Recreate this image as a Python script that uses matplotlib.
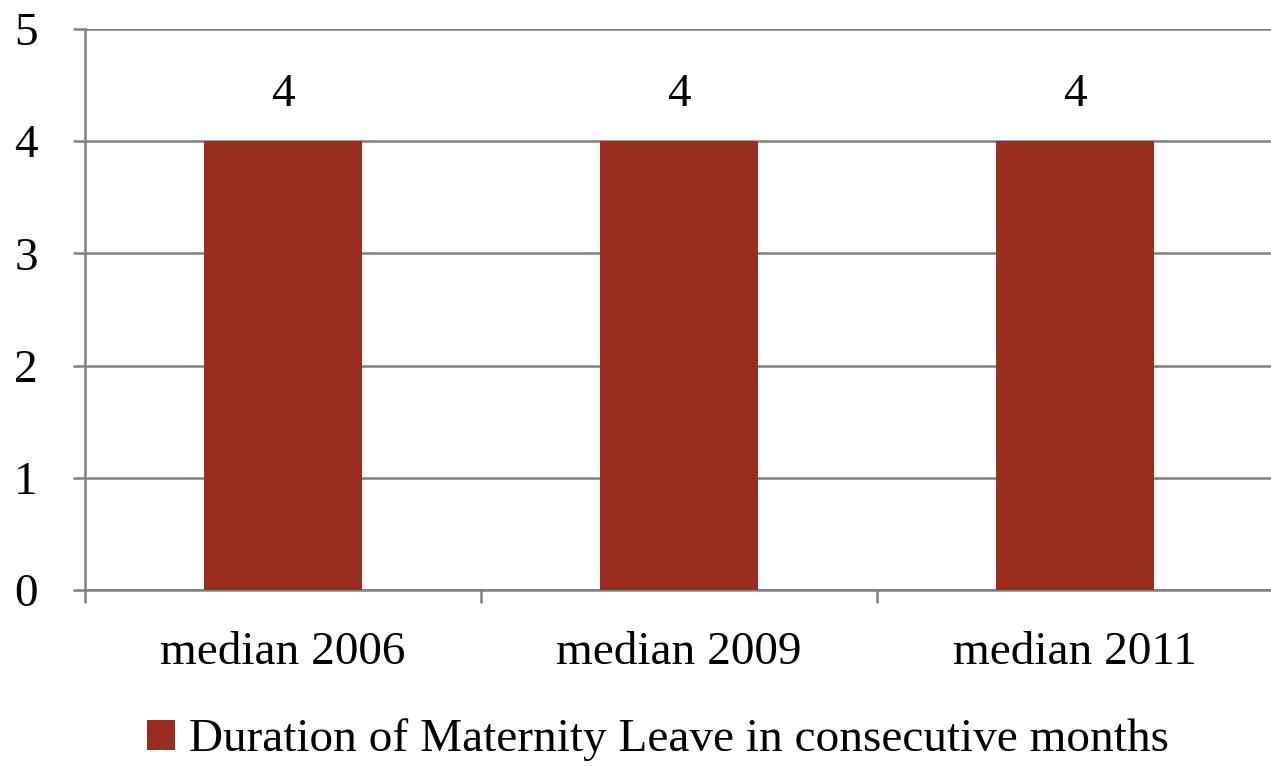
import matplotlib.pyplot as plt
from matplotlib.patches import Patch

categories = ["median 2006", "median 2009", "median 2011"]
values = [4, 4, 4]
series_name = "Duration of Maternity Leave in consecutive months"
bar_color = "#9a2c20"
grid_color = "#808080"

plt.rcParams['font.family'] = ['Liberation Serif', 'DejaVu Serif']

fig = plt.figure(figsize=(12.71, 7.67), dpi=100)
ax = fig.add_axes([85 / 1271, 1 - 590 / 767, (1273 - 85) / 1271, (590 - 29) / 767])

x = list(range(len(categories)))
bars = ax.bar(x, values, width=0.4, color=bar_color, zorder=3)
for xi, v in zip(x, values):
    ax.annotate(str(v), (xi, v), xytext=(0, 18), textcoords='offset points',
                ha='center', va='bottom', fontsize=34)

ax.set_xlim(-0.5, len(categories) - 0.5)
ax.set_ylim(0, 5)
ax.set_yticks(range(6))
ax.yaxis.grid(True, color=grid_color, linewidth=1.8, zorder=0)
ax.set_xticks([i + 0.5 for i in range(-1, len(categories))])
ax.set_xticklabels([])
ax.set_xticks(x, minor=True)
ax.set_xticklabels(categories, minor=True)
ax.tick_params(axis='x', which='minor', length=0, pad=30, labelsize=34)
ax.tick_params(axis='x', which='major', length=9, width=1.8, color=grid_color, direction='out')
ax.tick_params(axis='y', length=9, width=1.8, color=grid_color, pad=25, labelsize=34)

for s in ['top', 'right']:
    ax.spines[s].set_visible(False)
for s in ['left', 'bottom']:
    ax.spines[s].set_color(grid_color)
    ax.spines[s].set_linewidth(1.8)

handle = Patch(facecolor=bar_color, edgecolor='none')
fig.legend([handle], [series_name], loc='center', bbox_to_anchor=(658 / 1271, 1 - 740 / 767),
           frameon=False, fontsize=34, handlelength=0.6, handleheight=0.6, handletextpad=0.3)

fig.savefig("out.png", dpi=100)
